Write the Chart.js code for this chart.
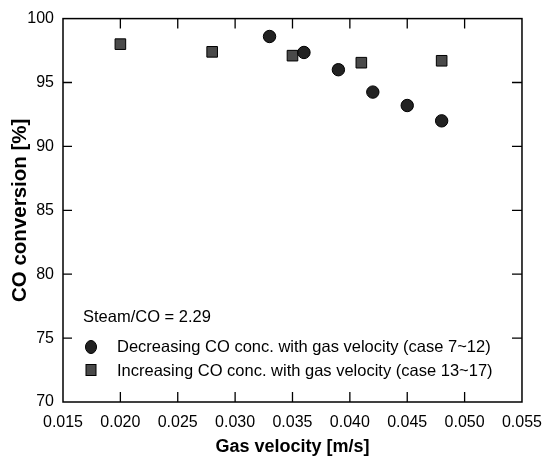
<!DOCTYPE html>
<html>
<head>
<meta charset="utf-8">
<script src="https://cdn.jsdelivr.net/npm/chart.js@4.4.0/dist/chart.umd.min.js"></script>
<style>
  html, body { margin: 0; padding: 0; background: #fff; }
  #wrap { width: 553px; height: 458px; position: relative; }
</style>
</head>
<body>
<div id="wrap"><canvas id="c"></canvas></div>
<script>
/* ── data ── */
var decVelocity = [0.033, 0.036, 0.039, 0.042, 0.045, 0.048];
var decConversion = [98.6, 97.35, 96.0, 94.25, 93.2, 92.0];
var incVelocity = [0.020, 0.028, 0.035, 0.041, 0.048];
var incConversion = [98.0, 97.4, 97.1, 96.55, 96.7];

var xTicks = [0.015, 0.020, 0.025, 0.030, 0.035, 0.040, 0.045, 0.050, 0.055];
var yTicks = [70, 75, 80, 85, 90, 95, 100];

var legendTitle = 'Steam/CO = 2.29';
var decLabel = 'Decreasing CO conc. with gas velocity (case 7~12)';
var incLabel = 'Increasing CO conc. with gas velocity (case 13~17)';

var FONT = '"Liberation Sans", Arial, sans-serif';

function toPoints(xs, ys){
  return xs.map(function(x, i){ return {x: x, y: ys[i]}; });
}

/* ── frame, inside ticks and in-plot legend ── */
var framePlugin = {
  id: 'frame',
  afterDatasetsDraw: function(chart){
    var ctx = chart.ctx, a = chart.chartArea;
    var xs = chart.scales.x, ys = chart.scales.y;
    ctx.save();
    ctx.strokeStyle = '#000';
    ctx.lineWidth = 1.5;
    ctx.strokeRect(a.left, a.top, a.right - a.left, a.bottom - a.top);
    ctx.lineWidth = 1.3;
    ctx.beginPath();
    xTicks.forEach(function(v){
      var px = xs.getPixelForValue(v);
      if(px <= a.left + 1 || px >= a.right - 1) return;
      ctx.moveTo(px, a.bottom); ctx.lineTo(px, a.bottom - 10);
      ctx.moveTo(px, a.top); ctx.lineTo(px, a.top + 10);
    });
    yTicks.forEach(function(v){
      var py = ys.getPixelForValue(v);
      if(py <= a.top + 1 || py >= a.bottom - 1) return;
      ctx.moveTo(a.left, py); ctx.lineTo(a.left + 9, py);
      ctx.moveTo(a.right, py); ctx.lineTo(a.right - 10, py);
    });
    ctx.stroke();

    // legend
    ctx.fillStyle = '#000';
    ctx.font = '16.5px ' + FONT;
    ctx.textBaseline = 'middle';
    ctx.textAlign = 'left';
    ctx.fillText(legendTitle, 83, 317);

    var ds = chart.data.datasets;
    ctx.fillStyle = ds[0].backgroundColor;
    ctx.beginPath();
    ctx.ellipse(91, 347, 5.5, 6.5, 0, 0, Math.PI * 2);
    ctx.fill(); ctx.lineWidth = 1; ctx.stroke();
    ctx.fillStyle = ds[1].backgroundColor;
    ctx.fillRect(86, 364.5, 10, 11);
    ctx.strokeRect(86, 364.5, 10, 11);

    ctx.fillStyle = '#000';
    ctx.fillText(ds[0].label, 117, 347);
    ctx.fillText(ds[1].label, 117, 371);
    ctx.restore();
  }
};

var ctx = document.getElementById('c').getContext('2d');
new Chart(ctx, {
  type: 'scatter',
  data: {
    datasets: [
      {
        label: decLabel,
        data: toPoints(decVelocity, decConversion),
        pointStyle: 'circle',
        pointRadius: 6.2,
        backgroundColor: '#222222',
        borderColor: '#000',
        borderWidth: 1
      },
      {
        label: incLabel,
        data: toPoints(incVelocity, incConversion),
        pointStyle: 'rect',
        pointRadius: 7.5,
        backgroundColor: '#4a4a4a',
        borderColor: '#000',
        borderWidth: 1
      }
    ]
  },
  plugins: [framePlugin],
  options: {
    responsive: true,
    maintainAspectRatio: false,
    animation: false,
    layout: { padding: { left: 0, right: 31, top: 15, bottom: 0 } },
    plugins: {
      legend: { display: false },
      tooltip: { enabled: false }
    },
    scales: {
      x: {
        type: 'linear',
        min: 0.015, max: 0.055,
        afterBuildTicks: function(s){ s.ticks = xTicks.map(function(v){ return {value: v}; }); },
        afterFit: function(s){ s.height = 56; },
        grid: { display: false, drawTicks: false },
        border: { display: false },
        ticks: {
          color: '#000', padding: 11,
          font: { family: FONT, size: 16 },
          callback: function(v){ return v.toFixed(3); }
        },
        title: {
          display: true, text: 'Gas velocity [m/s]', color: '#000',
          font: { family: FONT, size: 18, weight: 'bold' },
          padding: { top: 9, bottom: 0 }
        }
      },
      y: {
        type: 'linear',
        min: 70, max: 100,
        afterBuildTicks: function(s){ s.ticks = yTicks.map(function(v){ return {value: v}; }); },
        afterFit: function(s){ s.width = 63; },
        grid: { display: false, drawTicks: false },
        border: { display: false },
        ticks: {
          color: '#000', padding: 9,
          font: { family: FONT, size: 16 }
        },
        title: {
          display: true, text: 'CO conversion [%]', color: '#000',
          font: { family: FONT, size: 20.5, weight: 'bold' },
          padding: { top: 8, bottom: 0 }
        }
      }
    }
  }
});
</script>
</body>
</html>
